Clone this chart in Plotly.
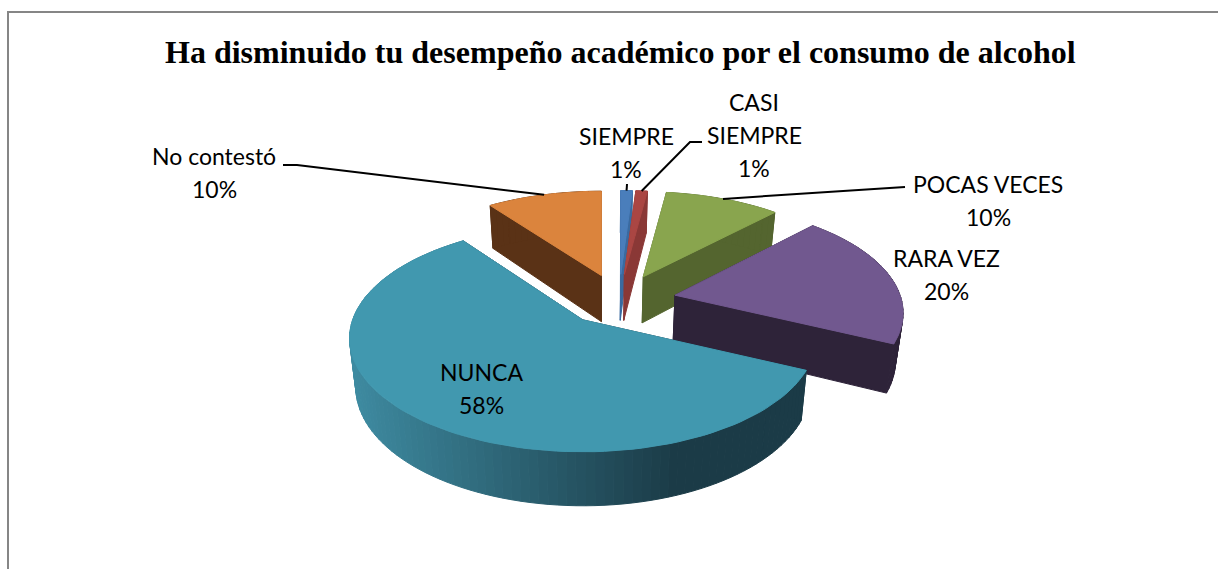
import math
import plotly.graph_objects as go

# ---- data ----
title = "Ha disminuido tu desempeño académico por el consumo de alcohol"
categories = ["SIEMPRE", "CASI SIEMPRE", "POCAS VECES", "RARA VEZ", "NUNCA", "No contestó"]
values = [1, 1, 10, 20, 58, 10]

# ---- styles ----
top_colors = ["#4A7EBB", "#AA4643", "#89A54E", "#71588F", "#4198AF", "#DB843D"]
wall_colors = ["#3A6AA0", "#8A3836", "#54652F", "#2E2339", "#1B3B47", "#5A3216"]
draw_order = [5, 0, 1, 2, 3, 4]
label_lines = [["SIEMPRE"], ["CASI", "SIEMPRE"], ["POCAS VECES"], ["RARA VEZ"], ["NUNCA"], ["No contestó"]]
label_pos = [(626, 136), (754, 102), (988, 184), (946, 258), (481, 372), (214, 156)]
LINE_H = 33
leader_ends = {0: [(627, 184)], 1: [(690, 142), (702, 142)], 2: [(905, 187)], 5: [(297, 165), (283, 165)]}

# projection constants of the tilted pie
CX, CY = 619, 300
KX, KY = 57, 25.7
A, B, P = 230, 110.5, 0.163


def apex_of(mid):
    return CX + KX * math.sin(mid), CY - KY * math.cos(mid)


def rim(ap, ang):
    dy = 320 - ap[1]
    sx = 1 - dy * dy * 3.5e-5
    sy = 1 - dy * dy * 5.7e-5
    s, d = math.sin(ang), -math.cos(ang)
    w = 1 - P * d
    return ap[0] + sx * A * s / w, ap[1] + sy * B * d / w


def lower(pt):
    x, y = pt
    return x - 0.025 * (x - 600), y + 46 + 0.045 * (y - 275)


def lerp_hex(c1, c2, t):
    a = [int(c1[i:i + 2], 16) for i in (1, 3, 5)]
    b = [int(c2[i:i + 2], 16) for i in (1, 3, 5)]
    return "#" + "".join(f"{round(u + (v - u) * t):02X}" for u, v in zip(a, b))


def poly(fig, pts, color):
    fig.add_trace(go.Scatter(
        x=[p[0] for p in pts] + [pts[0][0]], y=[p[1] for p in pts] + [pts[0][1]],
        mode="lines", fill="toself", fillcolor=color,
        line=dict(color=color, width=1), hoverinfo="skip", showlegend=False))


fig = go.Figure()
total = sum(values)
angles, c = [], 0
for v in values:
    angles.append((c / total * 2 * math.pi, (c + v) / total * 2 * math.pi))
    c += v

apexes = [apex_of((a0 + a1) / 2) for a0, a1 in angles]

for i in draw_order:
    a0, a1 = angles[i]
    ap = apexes[i]
    n = max(2, int(math.degrees(a1 - a0) / 2))
    arc = [rim(ap, a0 + (a1 - a0) * k / n) for k in range(n + 1)]
    # radial side walls
    for edge in (arc[0], arc[-1]):
        poly(fig, [ap, edge, lower(edge), lower(ap)], wall_colors[i])
    # outer wall, shaded for the large slice
    for k in range(n):
        col = wall_colors[i]
        if categories[i] == "NUNCA":
            t = min(1, max(0, (arc[k][0] - 350) / 330))
            col = lerp_hex("#3E8BA1", "#1B3B47", t)
        poly(fig, [arc[k], arc[k + 1], lower(arc[k + 1]), lower(arc[k])], col)
    # top face
    poly(fig, [ap] + arc, top_colors[i])

# leader lines, starting on the rim of each slice
for i, ends in leader_ends.items():
    a0, a1 = angles[i]
    st = rim(apexes[i], (a0 + a1) / 2)
    pts = [st] + ends
    fig.add_trace(go.Scatter(x=[p[0] for p in pts], y=[p[1] for p in pts], mode="lines",
                             line=dict(color="#000000", width=2), hoverinfo="skip", showlegend=False))

# labels
anns = [dict(x=620, y=52, xref="x", yref="y", text=f"<b>{title}</b>", showarrow=False,
             font=dict(family="Liberation Serif", size=32, color="#000000"))]
for lines, (x, y), v in zip(label_lines, label_pos, values):
    for j, t in enumerate(lines + [f"{v}%"]):
        anns.append(dict(x=x, y=y + j * LINE_H, xref="x", yref="y", text=t, showarrow=False,
                         font=dict(family="Lato", size=23, color="#000000")))

fig.update_layout(
    width=1218, height=569, autosize=False,
    margin=dict(l=0, r=0, t=0, b=0),
    paper_bgcolor="#FFFFFF", plot_bgcolor="#FFFFFF",
    xaxis=dict(range=[0, 1218], visible=False, fixedrange=True),
    yaxis=dict(range=[569, 0], visible=False, fixedrange=True),
    annotations=anns,
    shapes=[
        dict(type="line", xref="x", yref="y", x0=7, x1=1218, y0=12, y1=12, line=dict(color="#868686", width=2)),
        dict(type="line", xref="x", yref="y", x0=8, x1=8, y0=12, y1=569, line=dict(color="#868686", width=2)),
    ],
)

fig.write_html("out.html", config={"displayModeBar": False},
               post_script="document.body.style.margin='0';document.body.style.overflow='hidden';")
